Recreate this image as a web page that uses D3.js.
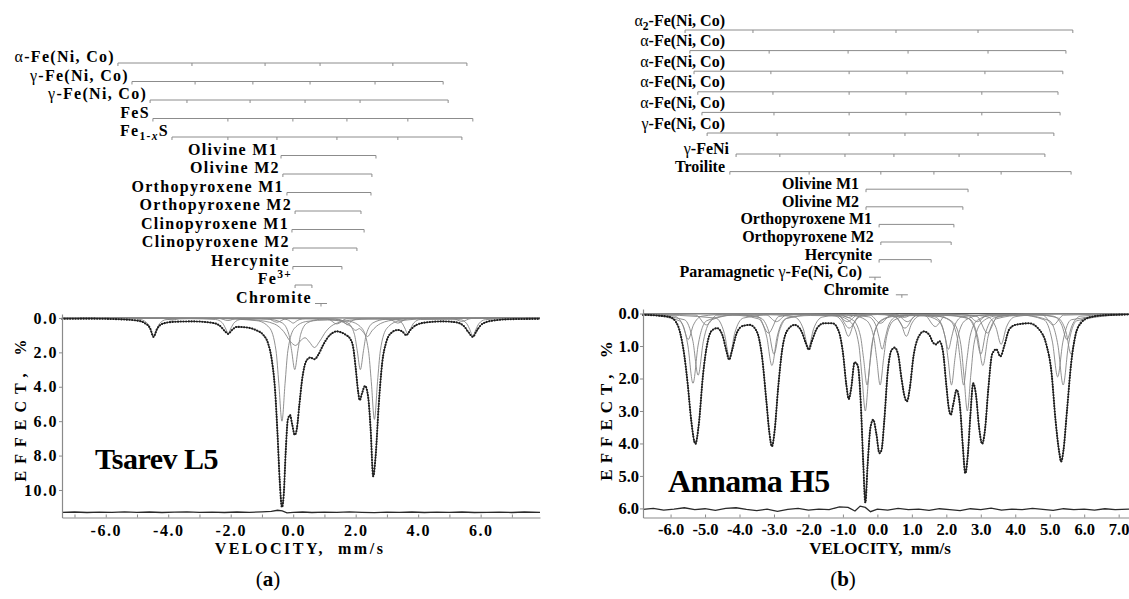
<!DOCTYPE html>
<html>
<head>
<meta charset="utf-8">
<script src="https://cdn.jsdelivr.net/npm/d3@7/dist/d3.min.js"></script>
<style>
    body { margin: 0; background: #fff; }
    svg text { font-family: "Liberation Serif", "Times New Roman", serif; font-weight: bold; fill: #000; }
</style>
</head>
<body>
<svg id="fig" width="1129" height="599"></svg>
<script>
// ---------- panel (a): Tsarev L5 ----------
var leftVelTicks = [-6, -4, -2, 0, 2, 4, 6];
var leftVelMinor = [-7, -6, -5, -4, -3, -2, -1, 0, 1, 2, 3, 4, 5, 6, 7];
var leftEffTicks = [0, 2, 4, 6, 8, 10];

var leftPhaseNames = ["α-Fe(Ni, Co)", "γ-Fe(Ni, Co)", "γ-Fe(Ni, Co)", "FeS", "Fe_{1-x}S",
    "Olivine M1", "Olivine M2", "Orthopyroxene M1", "Orthopyroxene M2",
    "Clinopyroxene M1", "Clinopyroxene M2", "Hercynite", "Fe^{3+}", "Chromite"];
var leftPhaseLines = [
    [-5.61, -3.24, -0.90, 0.86, 3.19, 5.56],
    [-5.16, -3.14, -1.29, 0.54, 2.62, 4.80],
    [-4.58, -3.40, -1.38, 0.38, 2.14, 4.96],
    [-4.49, -2.09, -0.01, 1.72, 3.67, 5.75],
    [-3.88, -2.09, -0.52, 1.40, 3.35, 5.40],
    [-0.39, 2.65],
    [-0.33, 2.52],
    [-0.20, 2.49],
    [0.06, 2.17],
    [-0.04, 2.27],
    [-0.01, 2.04],
    [-0.01, 1.56],
    [0.06, 0.60],
    [0.89]
];

var leftEnvelope = [[-7.4,0.05],[-6.5,0.04],[-5.5,0.08],[-5.0,0.15],[-4.75,0.3],[-4.58,0.6],[-4.47,1.1],[-4.36,0.65],[-4.2,0.35],
    [-3.8,0.22],[-3.2,0.2],[-2.6,0.28],[-2.35,0.45],[-2.18,0.78],[-2.08,0.93],[-1.97,0.72],[-1.8,0.52],[-1.5,0.55],[-1.2,0.7],
    [-0.95,1.0],[-0.8,1.5],[-0.68,2.5],[-0.58,4.2],[-0.5,6.8],[-0.43,9.5],[-0.36,11.0],[-0.3,10.2],[-0.24,7.8],[-0.17,5.9],
    [-0.1,5.65],[-0.03,6.2],[0.05,6.8],[0.12,6.4],[0.2,5.0],[0.3,3.4],[0.42,2.5],[0.55,2.3],[0.68,2.4],[0.8,2.15],[0.95,1.6],
    [1.1,1.15],[1.25,0.88],[1.4,0.78],[1.55,0.85],[1.7,1.0],[1.82,1.2],[1.92,1.7],[2.0,2.9],[2.08,4.3],[2.13,4.78],[2.2,4.4],
    [2.3,3.95],[2.4,4.6],[2.48,6.5],[2.56,9.2],[2.64,8.0],[2.74,5.0],[2.85,2.6],[2.98,1.4],[3.15,0.85],[3.35,0.7],[3.5,0.8],
    [3.62,1.0],[3.75,0.7],[3.95,0.4],[4.3,0.25],[4.8,0.2],[5.2,0.25],[5.45,0.45],[5.62,0.85],[5.75,1.1],[5.87,0.75],[6.05,0.35],
    [6.4,0.15],[7.0,0.07],[7.9,0.05]];

var leftResidual = [[-7.4,11.3],[-7.0,11.28],[-6.6,11.31],[-6.2,11.29],[-5.8,11.3],[-5.4,11.27],[-5.0,11.3],[-4.6,11.28],
    [-4.2,11.31],[-3.8,11.29],[-3.4,11.27],[-3.0,11.3],[-2.6,11.29],[-2.2,11.31],[-1.8,11.28],[-1.4,11.3],[-1.0,11.27],
    [-0.7,11.24],[-0.5,11.18],[-0.35,11.22],[-0.2,11.33],[0.0,11.3],[0.3,11.28],[0.6,11.31],[1.0,11.29],[1.4,11.3],
    [1.8,11.27],[2.2,11.3],[2.6,11.32],[3.0,11.29],[3.4,11.3],[3.8,11.28],[4.2,11.31],[4.6,11.29],[5.0,11.3],[5.4,11.28],
    [5.8,11.31],[6.2,11.3],[6.6,11.29],[7.0,11.31],[7.4,11.28],[7.9,11.3]];

var leftOlivine = [[-7.4,0.01],[-2.5,0.03],[-1.16,0.16],[-0.76,0.57],[-0.55,1.9],[-0.46,3.8],[-0.36,6.0],[-0.26,3.8],[-0.17,1.9],
    [0.04,0.6],[0.44,0.2],[1.1,0.12],[1.8,0.2],[2.2,0.6],[2.41,1.9],[2.5,3.7],[2.6,5.9],[2.7,3.7],[2.79,1.9],[3.0,0.6],[3.4,0.17],
    [4.5,0.03],[7.9,0.01]];
var leftPyroxene = [[-7.4,0.0],[-1.5,0.03],[-0.75,0.08],[-0.35,0.29],[-0.14,0.95],[-0.05,1.9],[0.05,3.0],[0.15,1.9],[0.24,0.95],
    [0.45,0.29],[0.85,0.08],[1.1,0.06],[1.35,0.08],[1.75,0.29],[1.96,0.95],[2.05,1.9],[2.15,3.0],[2.25,1.9],[2.34,0.95],
    [2.55,0.29],[2.95,0.08],[4.0,0.02],[7.9,0.0]];
var leftBroadA = [[-7.4,0.0],[-2.0,0.04],[-1.2,0.12],[-0.6,0.35],[-0.3,0.8],[-0.1,1.35],[0.08,1.6],[0.22,1.35],[0.38,1.15],
    [0.52,1.4],[0.68,1.72],[0.85,1.35],[1.05,0.78],[1.3,0.38],[1.8,0.14],[2.6,0.05],[7.9,0.0]];
var leftBroadB = [[-7.4,0.0],[0.8,0.04],[1.3,0.12],[1.6,0.25],[1.85,0.5],[2.0,0.72],[2.12,0.62],[2.25,0.85],[2.38,1.08],
    [2.52,0.75],[2.8,0.32],[3.3,0.1],[4.2,0.02],[7.9,0.0]];
var leftFeS = [[-7.4,0.01],[-5.2,0.02],[-4.87,0.1],[-4.66,0.34],[-4.57,0.66],[-4.47,1.05],[-4.37,0.66],[-4.28,0.34],[-4.07,0.1],
    [-3.3,0.04],[-2.48,0.09],[-2.27,0.28],[-2.18,0.55],[-2.08,0.88],[-1.98,0.55],[-1.89,0.28],[-1.68,0.09],[-0.4,0.04],
    [-0.19,0.1],[-0.1,0.19],[0.0,0.3],[0.1,0.19],[0.19,0.1],[0.4,0.04],[1.33,0.05],[1.54,0.13],[1.63,0.25],[1.73,0.4],
    [1.83,0.25],[1.92,0.13],[2.13,0.05],[3.27,0.09],[3.48,0.29],[3.57,0.58],[3.67,0.92],[3.77,0.58],[3.86,0.29],[4.07,0.09],
    [5.35,0.1],[5.56,0.34],[5.65,0.66],[5.75,1.05],[5.85,0.66],[5.94,0.34],[6.15,0.1],[7.0,0.02],[7.9,0.01]];
var leftFe1xS = [[-7.4,0.01],[-4.18,0.02],[-3.88,0.12],[-3.58,0.02],[-2.39,0.02],[-2.09,0.15],[-1.79,0.02],[-0.82,0.04],
    [-0.52,0.25],[-0.22,0.04],[1.1,0.05],[1.4,0.35],[1.7,0.05],[3.05,0.05],[3.35,0.3],[3.65,0.05],[5.1,0.03],[5.4,0.2],
    [5.7,0.03],[7.9,0.01]];

// ---------- panel (b): Annama H5 ----------
var rightVelTicks = [-6, -5, -4, -3, -2, -1, 0, 1, 2, 3, 4, 5, 6, 7];
var rightEffTicks = [0, 1, 2, 3, 4, 5, 6];

var rightPhaseNames = ["α_{2}-Fe(Ni, Co)", "α-Fe(Ni, Co)", "α-Fe(Ni, Co)", "α-Fe(Ni, Co)", "α-Fe(Ni, Co)",
    "γ-Fe(Ni, Co)", "γ-FeNi", "Troilite", "Olivine M1", "Olivine M2", "Orthopyroxene M1",
    "Orthopyroxene M2", "Hercynite", "Paramagnetic γ-Fe(Ni, Co)", "Chromite"];
var rightPhaseLines = [
    [-5.58, -3.61, -1.26, 0.54, 2.92, 5.67],
    [-5.44, -3.14, -0.85, 0.89, 3.21, 5.47],
    [-5.32, -3.09, -0.82, 0.86, 3.12, 5.38],
    [-5.21, -3.03, -0.82, 0.83, 3.03, 5.24],
    [-5.09, -3.00, -0.82, 0.83, 3.03, 5.30],
    [-4.94, -2.91, -0.82, 0.80, 2.92, 5.12],
    [-4.10, -2.83, -0.94, 0.48, 2.37, 4.86],
    [-4.28, -1.98, 0.10, 1.64, 3.59, 5.62],
    [-0.33, 2.63],
    [-0.33, 2.48],
    [0.05, 2.22],
    [0.10, 2.14],
    [0.05, 1.56],
    [-0.07],
    [0.71]
];

var rightEnvelope = [[-6.8,0.04],[-6.4,0.06],[-6.05,0.1],[-5.85,0.25],[-5.72,0.6],[-5.6,1.3],[-5.5,2.2],[-5.4,3.3],[-5.28,4.01],
    [-5.18,3.4],[-5.06,1.9],[-4.93,0.9],[-4.8,0.52],[-4.65,0.45],[-4.5,0.65],[-4.38,1.15],[-4.3,1.42],[-4.22,1.15],[-4.08,0.6],
    [-3.9,0.38],[-3.7,0.35],[-3.5,0.55],[-3.35,1.3],[-3.22,2.7],[-3.13,3.7],[-3.06,4.09],[-2.98,3.6],[-2.88,2.3],[-2.76,1.1],
    [-2.6,0.5],[-2.4,0.35],[-2.2,0.55],[-2.08,0.9],[-1.99,1.11],[-1.9,0.85],[-1.75,0.45],[-1.55,0.3],[-1.3,0.3],[-1.12,0.55],
    [-1.0,1.2],[-0.9,2.2],[-0.83,2.63],[-0.76,2.3],[-0.66,1.5],[-0.57,1.6],[-0.48,2.8],[-0.41,4.6],[-0.35,5.82],[-0.28,4.6],
    [-0.2,3.5],[-0.12,3.27],[-0.03,3.7],[0.06,4.3],[0.12,4.2],[0.2,3.3],[0.3,1.8],[0.4,1.15],[0.5,1.05],[0.6,1.25],[0.7,2.0],
    [0.8,2.6],[0.86,2.7],[0.94,2.3],[1.05,1.3],[1.18,0.75],[1.35,0.55],[1.5,0.65],[1.62,0.9],[1.7,0.95],[1.8,0.85],[1.9,1.15],
    [2.0,2.2],[2.07,2.9],[2.13,3.12],[2.2,2.8],[2.3,2.35],[2.4,2.9],[2.48,4.1],[2.55,4.92],[2.62,4.4],[2.7,3.1],[2.78,2.15],
    [2.86,2.5],[2.95,3.5],[3.04,4.01],[3.12,3.6],[3.22,2.3],[3.33,1.25],[3.45,1.1],[3.57,1.32],[3.68,1.0],[3.82,0.5],[4.0,0.35],
    [4.4,0.3],[4.7,0.5],[4.9,0.95],[5.05,1.8],[5.17,3.3],[5.28,4.3],[5.33,4.56],[5.4,4.2],[5.5,3.0],[5.62,1.55],[5.75,0.65],
    [5.9,0.3],[6.15,0.12],[6.6,0.05],[7.3,0.03]];

var rightResidual = [[-6.8,6.03],[-6.5,6.0],[-6.2,6.05],[-5.9,6.02],[-5.6,5.98],[-5.3,6.04],[-5.0,6.01],[-4.7,6.06],[-4.4,6.0],
    [-4.1,5.98],[-3.8,6.03],[-3.5,6.07],[-3.2,6.02],[-2.9,6.09],[-2.6,6.03],[-2.3,6.0],[-2.0,6.05],[-1.7,6.02],[-1.4,6.04],
    [-1.1,5.95],[-0.85,5.97],[-0.65,6.08],[-0.5,5.93],[-0.35,5.97],[-0.2,6.1],[0.0,6.02],[0.3,6.05],[0.6,6.0],[0.9,6.04],
    [1.2,6.02],[1.5,6.06],[1.8,6.01],[2.1,6.04],[2.4,6.07],[2.7,6.01],[3.0,6.04],[3.3,5.99],[3.6,6.05],[3.9,6.02],[4.2,6.04],
    [4.5,6.0],[4.8,6.03],[5.1,6.06],[5.4,6.01],[5.7,6.04],[6.0,6.02],[6.3,6.05],[6.6,6.01],[6.9,6.04],[7.3,6.02]];

var rightAlphaA = [[-6.8,0.02],[-5.75,0.22],[-5.5,0.97],[-5.35,2.15],[-5.2,0.97],[-4.95,0.22],[-4.2,0.05],
    [-3.46,0.16],[-3.21,0.72],[-3.06,1.6],[-2.91,0.72],[-2.66,0.16],[-1.95,0.06],
    [-1.24,0.07],[-0.99,0.32],[-0.84,0.7],[-0.69,0.32],[-0.44,0.07],[0,0.03],
    [0.44,0.07],[0.69,0.32],[0.84,0.7],[0.99,0.32],[1.24,0.07],[1.95,0.06],
    [2.66,0.16],[2.91,0.72],[3.06,1.6],[3.21,0.72],[3.46,0.16],[4.2,0.05],
    [4.99,0.22],[5.24,0.99],[5.39,2.2],[5.54,0.99],[5.79,0.22],[7.3,0.02]];
var rightAlphaB = [[-6.8,0.02],[-5.6,0.19],[-5.35,0.86],[-5.2,1.9],[-5.05,0.86],[-4.8,0.19],[-4.1,0.04],
    [-3.4,0.13],[-3.15,0.56],[-3.0,1.25],[-2.85,0.56],[-2.6,0.13],[-1.9,0.04],
    [-1.12,0.07],[-0.82,0.45],[-0.52,0.07],[0,0.02],
    [0.5,0.07],[0.8,0.45],[1.1,0.07],[1.9,0.04],
    [2.6,0.13],[2.85,0.56],[3.0,1.25],[3.15,0.56],[3.4,0.13],[4.1,0.04],
    [4.83,0.19],[5.08,0.88],[5.23,1.95],[5.38,0.88],[5.63,0.19],[7.3,0.02]];
var rightAlphaC = [[-6.8,0.01],[-5.89,0.08],[-5.64,0.36],[-5.49,0.8],[-5.34,0.36],[-5.09,0.08],[-4.3,0.02],
    [-3.46,0.09],[-3.16,0.6],[-2.86,0.09],[-2.0,0.02],
    [-1.17,0.04],[-0.87,0.25],[-0.57,0.04],[0,0.01],
    [0.57,0.04],[0.87,0.25],[1.17,0.04],[2.0,0.02],
    [2.89,0.09],[3.19,0.6],[3.49,0.09],[4.3,0.02],
    [5.1,0.08],[5.35,0.36],[5.5,0.8],[5.65,0.36],[5.9,0.08],[7.3,0.01]];
var rightTroilite = [[-6.8,0.02],[-4.69,0.14],[-4.44,0.61],[-4.29,1.35],[-4.14,0.61],[-3.89,0.14],[-3.1,0.04],
    [-2.4,0.11],[-2.15,0.47],[-2.0,1.05],[-1.85,0.47],[-1.6,0.11],[-0.9,0.03],
    [-0.21,0.05],[0.09,0.3],[0.39,0.05],[0.9,0.03],
    [1.38,0.06],[1.68,0.4],[1.98,0.06],[2.6,0.04],
    [3.19,0.1],[3.44,0.43],[3.59,0.95],[3.74,0.43],[3.99,0.1],[4.6,0.04],
    [5.22,0.13],[5.47,0.56],[5.62,1.25],[5.77,0.56],[6.02,0.13],[7.3,0.02]];
var rightOlivineM1 = [[-6.8,0.0],[-2.5,0.02],[-1.15,0.08],[-0.75,0.29],[-0.54,0.95],[-0.45,1.9],[-0.35,3.0],[-0.25,1.9],
    [-0.16,0.95],[0.05,0.29],[0.45,0.09],[1.1,0.05],[1.81,0.09],[2.21,0.29],[2.42,0.95],[2.51,1.9],[2.61,3.0],[2.71,1.9],
    [2.8,0.95],[3.01,0.29],[3.41,0.08],[5.0,0.01],[7.3,0.0]];
var rightOlivineM2 = [[-6.8,0.0],[-2.5,0.01],[-1.1,0.06],[-0.7,0.21],[-0.49,0.7],[-0.4,1.39],[-0.3,2.2],[-0.2,1.39],
    [-0.11,0.7],[0.1,0.21],[0.5,0.07],[1.1,0.04],[1.7,0.07],[2.1,0.21],[2.31,0.7],[2.4,1.39],[2.5,2.2],[2.6,1.39],
    [2.69,0.7],[2.9,0.21],[3.3,0.06],[5.0,0.01],[7.3,0.0]];
var rightOpxM1 = [[-6.8,0.0],[-2.5,0.01],[-0.72,0.06],[-0.32,0.21],[-0.11,0.7],[-0.02,1.39],[0.08,2.2],[0.18,1.39],
    [0.27,0.7],[0.48,0.21],[0.88,0.07],[1.1,0.06],[1.35,0.07],[1.75,0.21],[1.96,0.7],[2.05,1.39],[2.15,2.2],[2.25,1.39],
    [2.34,0.7],[2.55,0.21],[2.95,0.06],[5.0,0.01],[7.3,0.0]];
var rightOpxM2 = [[-6.8,0.0],[-1.5,0.02],[-0.26,0.1],[-0.05,0.35],[0.04,0.7],[0.14,1.1],[0.24,0.7],[0.33,0.35],[0.54,0.1],
    [1.1,0.04],[1.66,0.1],[1.87,0.35],[1.96,0.7],[2.06,1.1],[2.16,0.7],[2.25,0.35],[2.46,0.1],[3.5,0.02],[7.3,0.0]];
var rightGamma = [[-6.8,0.01],[-5.26,0.05],[-4.96,0.35],[-4.66,0.05],[-3.23,0.04],[-2.93,0.25],[-2.63,0.04],[-1.1,0.02],
    [-0.84,0.12],[-0.58,0.02],[0.52,0.02],[0.78,0.12],[1.04,0.02],[2.6,0.04],[2.9,0.25],[3.2,0.04],[4.8,0.05],[5.1,0.35],
    [5.4,0.05],[7.3,0.01]];

// ---------- drawing ----------
var svg = d3.select("#fig");

var xL = d3.scaleLinear().domain([-7.4, 7.9]).range([62, 540]);
var yL = d3.scaleLinear().domain([-0.23, 11.6]).range([314, 517.5]);
var xR = d3.scaleLinear().domain([-6.8, 7.3]).range([643, 1129]);
var yR = d3.scaleLinear().domain([-0.14, 6.28]).range([309, 517.5]);

var fmt = function(d) { return d.toFixed(1); };

// Writes a label with sub/superscripts and thin greek letters
var addRich = function(textSel, str) {
    var parts = str.split(/(_\{[^}]*\}|\^\{[^}]*\})/).filter(function(s) { return s.length; });
    var shift = 0;
    parts.forEach(function(p) {
        var dy = 0, small = false, txt = p;
        if (p.indexOf("_{") === 0) { txt = p.slice(2, -1); dy = 4; small = true; }
        else if (p.indexOf("^{") === 0) { txt = p.slice(2, -1); dy = -6; small = true; }
        var move = dy - shift;
        shift = dy;
        var pieces = txt.split(small ? /([αγx])/ : /([αγ])/).filter(function(s) { return s.length; });
        pieces.forEach(function(s, j) {
            var t = textSel.append("tspan").text(s);
            if (j === 0 && move !== 0) t.attr("dy", move);
            if (small) t.attr("font-size", "72%");
            if (s === "α" || s === "γ") t.attr("font-weight", "normal");
            if (s === "x" && small) t.attr("font-style", "italic");
        });
    });
};

var drawSticks = function(names, lines, x, rowY, labelX, labelY, fontSize, spacing) {
    var g = svg.append("g");
    names.forEach(function(name, i) {
        var y = rowY(i);
        var pos = lines[i];
        var x0 = pos.length > 1 ? x(d3.min(pos)) : x(pos[0]) - 6;
        var x1 = pos.length > 1 ? x(d3.max(pos)) : x(pos[0]) + 6;
        g.append("line")
            .attr("x1", x0).attr("x2", x1).attr("y1", y).attr("y2", y)
            .attr("stroke", "#8c8c8c").attr("stroke-width", 1);
        g.selectAll(null).data(pos).enter()
            .append("line")
            .attr("x1", function(d) { return x(d); })
            .attr("x2", function(d) { return x(d); })
            .attr("y1", y).attr("y2", y + 3)
            .attr("stroke", "#8c8c8c").attr("stroke-width", 1);
        var t = g.append("text")
            .attr("x", labelX(x0))
            .attr("y", labelY(y, i))
            .attr("text-anchor", "end")
            .attr("font-size", fontSize)
            .style("letter-spacing", spacing + "px");
        addRich(t, name);
    });
};

var drawSpectrum = function(p) {
    var g = svg.append("g");
    var line = d3.line()
        .x(function(d) { return p.x(d[0]); })
        .y(function(d) { return p.y(d[1]); })
        .curve(d3.curveMonotoneX);

    // fit baseline
    g.append("line")
        .attr("x1", p.x.range()[0]).attr("x2", p.x.range()[1])
        .attr("y1", p.y(0)).attr("y2", p.y(0))
        .attr("stroke", "#555").attr("stroke-width", 1);

    // sub-spectra
    g.selectAll("path.comp")
        .data(p.components).enter()
        .append("path")
        .attr("class", "comp")
        .attr("d", line)
        .attr("fill", "none")
        .attr("stroke", "#858585")
        .attr("stroke-width", 0.9);

    // experimental points + envelope
    g.append("path")
        .attr("d", line(p.envelope))
        .attr("fill", "none")
        .attr("stroke", "#333")
        .attr("stroke-width", 1);
    g.append("path")
        .attr("d", line(p.envelope))
        .attr("fill", "none")
        .attr("stroke", "#1e1e1e")
        .attr("stroke-width", 2.1)
        .attr("stroke-linecap", "round")
        .attr("stroke-dasharray", "0.1 2.6");

    // residual
    g.append("path")
        .attr("d", d3.line().x(function(d) { return p.x(d[0]); }).y(function(d) { return p.y(d[1]); })(p.residual))
        .attr("fill", "none")
        .attr("stroke", "#2a2a2a")
        .attr("stroke-width", 1.3);

    // axes
    var xa = g.append("g")
        .attr("transform", "translate(0," + p.y.range()[1] + ")")
        .call(d3.axisBottom(p.x)
            .tickValues(p.minor)
            .tickSize(-3)
            .tickSizeOuter(0)
            .tickPadding(p.xPad)
            .tickFormat(function(d) { return p.major.indexOf(d) >= 0 ? fmt(d) : ""; }));
    var ya = g.append("g")
        .attr("transform", "translate(" + p.x.range()[0] + ",0)")
        .call(d3.axisLeft(p.y)
            .tickValues(p.yTicks)
            .tickSize(3)
            .tickSizeOuter(0)
            .tickPadding(1)
            .tickFormat(fmt));
    [xa, ya].forEach(function(a) {
        a.select(".domain").attr("stroke", "#8a8a8a").attr("stroke-width", 1.2);
        a.selectAll(".tick line").attr("stroke", "#8a8a8a");
        a.selectAll("text")
            .attr("fill", "#000")
            .style("font-family", "'Liberation Serif', serif")
            .style("font-weight", "bold")
            .style("font-size", p.tickFont + "px")
            .style("letter-spacing", p.tickSpacing + "px");
    });

    // titles
    g.append("text")
        .attr("x", p.xTitle[0]).attr("y", p.xTitle[1])
        .attr("text-anchor", "middle")
        .attr("font-size", p.titleFont)
        .style("letter-spacing", p.xTitleSpacing + "px")
        .style("white-space", "pre")
        .text("VELOCITY,  mm/s");
    g.append("text")
        .attr("transform", "translate(" + p.yTitle[0] + "," + p.yTitle[1] + ") rotate(-90)")
        .attr("text-anchor", "middle")
        .attr("font-size", p.titleFont)
        .style("letter-spacing", p.yTitleSpacing + "px")
        .text("EFFECT, %");
    g.append("text")
        .attr("x", p.name[0]).attr("y", p.name[1])
        .attr("font-size", p.nameFont)
        .style("letter-spacing", "-0.5px")
        .text(p.name[2]);
};

// panel (a)
drawSticks(leftPhaseNames, leftPhaseLines, xL,
    function(i) { return 63 + i * 18.5; },
    function(x0) { return x0 - 3; },
    function(y) { return y - 1; },
    16, 1.3);
drawSpectrum({
    x: xL, y: yL,
    envelope: leftEnvelope, residual: leftResidual,
    components: [leftFe1xS, leftFeS, leftBroadB, leftBroadA, leftPyroxene, leftOlivine],
    major: leftVelTicks, minor: leftVelMinor, yTicks: leftEffTicks,
    xPad: 7, tickFont: 16, tickSpacing: 1.5,
    titleFont: 16, xTitle: [300, 554], xTitleSpacing: 2.5,
    yTitle: [26, 407], yTitleSpacing: 7,
    name: [95, 469, "Tsarev L5"], nameFont: 30
});

// panel (b)
drawSticks(rightPhaseNames, rightPhaseLines, xR,
    function(i) { return i < 6 ? 30 + i * 20.6 : 154 + (i - 6) * 17.6; },
    function(x0) { return Math.max(x0 - 7, 725); },
    function(y, i) { return i < 6 ? y - 4.5 : y; },
    16, 0);
drawSpectrum({
    x: xR, y: yR,
    envelope: rightEnvelope, residual: rightResidual,
    components: [rightGamma, rightAlphaC, rightAlphaB, rightAlphaA, rightTroilite,
        rightOpxM2, rightOpxM1, rightOlivineM2, rightOlivineM1],
    major: rightVelTicks, minor: rightVelTicks, yTicks: rightEffTicks,
    xPad: 6, tickFont: 16.5, tickSpacing: 0,
    titleFont: 17, xTitle: [880, 554], xTitleSpacing: 0,
    yTitle: [612, 408], yTitleSpacing: 6,
    name: [668, 492, "Annama H5"], nameFont: 32
});

// captions
[["a", 268], ["b", 843]].forEach(function(c) {
    var t = svg.append("text")
        .attr("x", c[1]).attr("y", 586)
        .attr("text-anchor", "middle")
        .attr("font-size", 21)
        .attr("font-weight", "normal");
    t.append("tspan").attr("font-weight", "normal").text("(");
    t.append("tspan").text(c[0]);
    t.append("tspan").attr("font-weight", "normal").text(")");
});
</script>
</body>
</html>
